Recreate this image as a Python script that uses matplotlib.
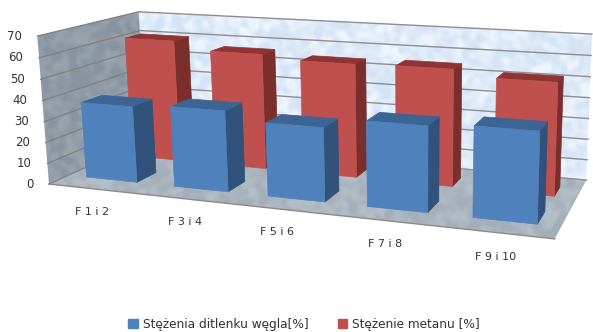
import matplotlib
matplotlib.use("Agg")
import matplotlib.pyplot as plt
from matplotlib.patches import Patch, Polygon
import numpy as np

categories = ["F 1 i 2", "F 3 i 4", "F 5 i 6", "F 7 i 8", "F 9 i 10"]
co2 = [36.5, 38, 34, 38.5, 40]
ch4 = [61, 57, 55, 55.5, 52.5]
ticks = [0, 10, 20, 30, 40, 50, 60, 70]
series_names = ["Stężenia ditlenku węgla[%]", "Stężenie metanu [%]"]

W, H = 593, 332

# (category, depth, value) -> pixel pairs that fix the camera of the 3D box
box_world = [(0, 0, 0), (5, 0, 0), (5, 1, 0), (0, 1, 0), (0, 0, 70), (0, 1, 70), (5, 1, 70)]
box_pixel = [(48, 183), (555, 239), (586, 180), (147, 141), (38, 37), (138, 11), (592, 34)]

label_xy = [(92, 212), (185, 222), (277, 232), (385, 244), (496, 257)]


def fit_camera():
    rows = []
    for (a, b, c), (x, y) in zip(box_world, box_pixel):
        p = [a, b, c, 1]
        rows.append(p + [0, 0, 0, 0] + [-x * k for k in p])
        rows.append([0, 0, 0, 0] + p + [-y * k for k in p])
    return np.linalg.svd(np.array(rows, dtype=float))[2][-1].reshape(3, 4)


cam = fit_camera()
rng = np.random.default_rng(4)


def proj(c, d, v):
    q = cam @ np.array([c, d, v, 1.0])
    return q[0] / q[2], q[1] / q[2]


def face(ax, pts, color, zorder=2):
    ax.fill([proj(*p)[0] for p in pts], [proj(*p)[1] for p in pts],
            color=color, lw=0.5, zorder=zorder)


def mottled(ax, pts, low, high):
    # soft cloudy fill for the walls, clipped to the wall outline
    noise = np.fft.ifft2(np.fft.fft2(rng.normal(size=(H, W))) *
                         np.exp(-(np.fft.fftfreq(H)[:, None] ** 2 +
                                  np.fft.fftfreq(W)[None, :] ** 2) * 150)).real
    noise = np.clip((noise - noise.mean()) / (3 * noise.std()) + 0.5, 0, 1)[..., None]
    img = np.array(matplotlib.colors.to_rgb(low)) * (1 - noise) + np.array(matplotlib.colors.to_rgb(high)) * noise
    im = ax.imshow(img, extent=(0, W, H, 0), aspect="auto", zorder=1)
    im.set_clip_path(Polygon([proj(*p) for p in pts], transform=ax.transData))


def bar(ax, cat, d0, d1, half, val, front, side, top):
    c0, c1 = cat + 0.5 - half, cat + 0.5 + half
    face(ax, [(c1, d0, 0), (c1, d1, 0), (c1, d1, val), (c1, d0, val)], side)
    face(ax, [(c0, d0, val), (c1, d0, val), (c1, d1, val), (c0, d1, val)], top)
    face(ax, [(c0, d0, 0), (c1, d0, 0), (c1, d0, val), (c0, d0, val)], front)


fig = plt.figure(figsize=(W / 100, H / 100), dpi=100)
ax = fig.add_axes([0, 0, 1, 1])

# walls and floor
mottled(ax, [(0, 1, 0), (5, 1, 0), (5, 1, 70), (0, 1, 70)], "#d4e3f6", "#ecf4fd")
mottled(ax, [(0, 0, 0), (0, 1, 0), (0, 1, 70), (0, 0, 70)], "#87939e", "#97a2ac")
mottled(ax, [(0, 0, 0), (5, 0, 0), (5, 1, 0), (0, 1, 0)], "#a3aeb9", "#b3bdc6")
ax.set_xlim(0, W)
ax.set_ylim(H, 0)
ax.axis("off")

x0, y0 = proj(0, 0, 0)
x1, y1 = proj(5, 0, 0)
ax.plot([x0, x1], [y0, y1], color="#8c8a88", lw=1, zorder=1.5)

for t in ticks:
    a, b, c = proj(0, 0, t), proj(0, 1, t), proj(5, 1, t)
    ax.plot([a[0], b[0]], [a[1], b[1]], color="#80807c", lw=0.9, zorder=1.5)
    ax.plot([b[0], c[0]], [b[1], c[1]], color="#8e8e8e", lw=1, zorder=1.5)
    ax.text(a[0] - 15.5, a[1], str(t), ha="right", va="center", fontsize=8.5, color="#333333")

for i in range(len(categories) - 1, -1, -1):
    bar(ax, i, 0.65, 0.82, 0.29, ch4[i], "#c0504d", "#7b2f2d", "#8f3432")
for i in range(len(categories) - 1, -1, -1):
    bar(ax, i, 0.18, 0.38, 0.29, co2[i], "#4f81bd", "#31527a", "#3c6494")

for name, (x, y) in zip(categories, label_xy):
    ax.text(x, y, name, ha="center", va="center", fontsize=8, color="#333333")

handles = [Patch(color="#4f81bd"), Patch(color="#c0504d")]
ax.legend(handles, series_names, loc="center", bbox_to_anchor=(304, 324.5),
          bbox_transform=ax.transData, ncol=2, frameon=False, fontsize=8.7,
          handlelength=0.8, handleheight=0.8, handletextpad=0.4,
          columnspacing=2.4, labelcolor="#333333")

fig.savefig("out.png", dpi=100)
